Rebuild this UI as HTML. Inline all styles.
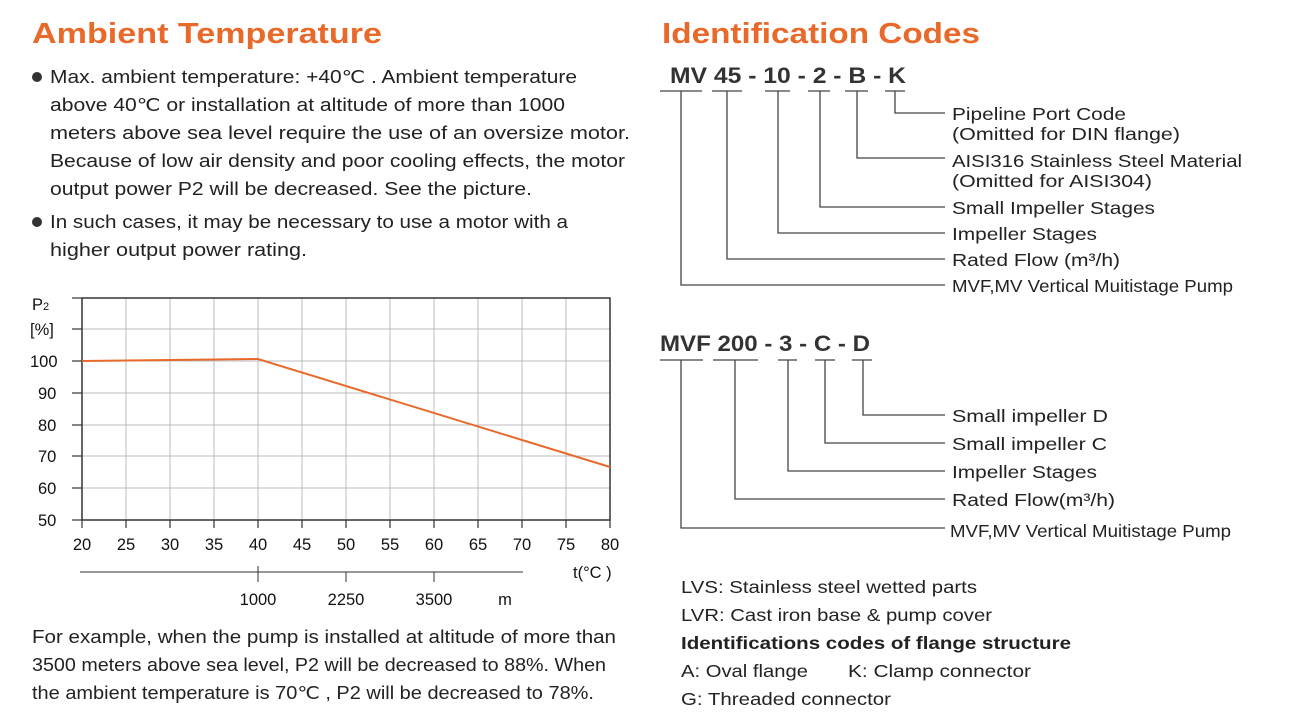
<!DOCTYPE html>
<html><head><meta charset="utf-8"><style>
html,body{margin:0;padding:0;background:#fff;}
svg{display:block;}
text{font-family:"Liberation Sans",sans-serif;fill:#222;}
.b{font-size:18px;}
.o{fill:#e8692a;font-size:29px;font-weight:bold;}
.t{font-size:16.5px;fill:#111;}
.c{font-weight:bold;font-size:22px;fill:#333;}
.l{font-size:17.5px;fill:#222;}
</style></head><body>
<svg width="1301" height="724" viewBox="0 0 1301 724" xmlns="http://www.w3.org/2000/svg">
<!-- Left -->
<text class="o" x="32" y="43" textLength="350" lengthAdjust="spacingAndGlyphs">Ambient Temperature</text>
<circle cx="37" cy="77" r="5" fill="#333"/>
<text class="b" x="50" y="83" textLength="527" lengthAdjust="spacingAndGlyphs">Max. ambient temperature: +40℃ . Ambient temperature</text>
<text class="b" x="50" y="111" textLength="515" lengthAdjust="spacingAndGlyphs">above 40℃ or installation at altitude of more than 1000</text>
<text class="b" x="50" y="139" textLength="580" lengthAdjust="spacingAndGlyphs">meters above sea level require the use of an oversize motor.</text>
<text class="b" x="50" y="167" textLength="575" lengthAdjust="spacingAndGlyphs">Because of low air density and poor cooling effects, the motor</text>
<text class="b" x="50" y="195" textLength="482" lengthAdjust="spacingAndGlyphs">output power P2 will be decreased. See the picture.</text>
<circle cx="37" cy="222" r="5" fill="#333"/>
<text class="b" x="50" y="228" textLength="518" lengthAdjust="spacingAndGlyphs">In such cases, it may be necessary to use a motor with a</text>
<text class="b" x="50" y="256" textLength="257" lengthAdjust="spacingAndGlyphs">higher output power rating.</text>

<!-- chart grid -->
<g stroke="#bbb" stroke-width="1">
<line x1="126" y1="298" x2="126" y2="520"/><line x1="170" y1="298" x2="170" y2="520"/>
<line x1="214" y1="298" x2="214" y2="520"/><line x1="258" y1="298" x2="258" y2="520"/>
<line x1="302" y1="298" x2="302" y2="520"/><line x1="346" y1="298" x2="346" y2="520"/>
<line x1="390" y1="298" x2="390" y2="520"/><line x1="434" y1="298" x2="434" y2="520"/>
<line x1="478" y1="298" x2="478" y2="520"/><line x1="522" y1="298" x2="522" y2="520"/>
<line x1="566" y1="298" x2="566" y2="520"/>
<line x1="82" y1="329" x2="610" y2="329"/><line x1="82" y1="361" x2="610" y2="361"/>
<line x1="82" y1="393" x2="610" y2="393"/><line x1="82" y1="425" x2="610" y2="425"/>
<line x1="82" y1="456" x2="610" y2="456"/><line x1="82" y1="488" x2="610" y2="488"/>
</g>
<rect x="82" y="298" width="528" height="222" fill="none" stroke="#333" stroke-width="1.5"/>
<g stroke="#333" stroke-width="1.2">
<line x1="72" y1="298" x2="82" y2="298"/><line x1="72" y1="329" x2="82" y2="329"/>
<line x1="72" y1="361" x2="82" y2="361"/><line x1="72" y1="393" x2="82" y2="393"/>
<line x1="72" y1="425" x2="82" y2="425"/><line x1="72" y1="456" x2="82" y2="456"/>
<line x1="72" y1="488" x2="82" y2="488"/><line x1="72" y1="520" x2="82" y2="520"/>
<line x1="82" y1="520" x2="82" y2="528"/><line x1="126" y1="520" x2="126" y2="528"/>
<line x1="170" y1="520" x2="170" y2="528"/><line x1="214" y1="520" x2="214" y2="528"/>
<line x1="258" y1="520" x2="258" y2="528"/><line x1="302" y1="520" x2="302" y2="528"/>
<line x1="346" y1="520" x2="346" y2="528"/><line x1="390" y1="520" x2="390" y2="528"/>
<line x1="434" y1="520" x2="434" y2="528"/><line x1="478" y1="520" x2="478" y2="528"/>
<line x1="522" y1="520" x2="522" y2="528"/><line x1="566" y1="520" x2="566" y2="528"/>
<line x1="610" y1="520" x2="610" y2="528"/>
</g>
<polyline points="82,361 258,359 610,467" fill="none" stroke="#e8692a" stroke-width="2"/>
<g class="t">
<text x="32" y="310" class="t">P<tspan font-size="11">2</tspan></text>
<text x="30" y="335" class="t">[%]</text>
<text x="30" y="367" class="t">100</text><text x="38" y="399" class="t">90</text>
<text x="38" y="431" class="t">80</text><text x="38" y="462" class="t">70</text>
<text x="38" y="494" class="t">60</text><text x="38" y="526" class="t">50</text>
</g>
<g text-anchor="middle">
<text class="t" x="82" y="550">20</text><text class="t" x="126" y="550">25</text>
<text class="t" x="170" y="550">30</text><text class="t" x="214" y="550">35</text>
<text class="t" x="258" y="550">40</text><text class="t" x="302" y="550">45</text>
<text class="t" x="346" y="550">50</text><text class="t" x="390" y="550">55</text>
<text class="t" x="434" y="550">60</text><text class="t" x="478" y="550">65</text>
<text class="t" x="522" y="550">70</text><text class="t" x="566" y="550">75</text>
<text class="t" x="610" y="550">80</text>
<text class="t" x="258" y="605">1000</text><text class="t" x="346" y="605">2250</text>
<text class="t" x="434" y="605">3500</text><text class="t" x="505" y="605">m</text>
</g>
<text class="t" x="573" y="578">t(°C )</text>
<g stroke="#333" stroke-width="1">
<line x1="80" y1="572" x2="523" y2="572"/>
<line x1="258" y1="566" x2="258" y2="582"/><line x1="346" y1="572" x2="346" y2="582"/>
<line x1="434" y1="572" x2="434" y2="582"/>
</g>
<text class="b" x="32" y="643" textLength="584" lengthAdjust="spacingAndGlyphs">For example, when the pump is installed at altitude of more than</text>
<text class="b" x="32" y="671" textLength="574" lengthAdjust="spacingAndGlyphs">3500 meters above sea level, P2 will be decreased to 88%. When</text>
<text class="b" x="32" y="699" textLength="562" lengthAdjust="spacingAndGlyphs">the ambient temperature is 70℃ , P2 will be decreased to 78%.</text>

<!-- Right -->
<text class="o" x="662" y="43" textLength="318" lengthAdjust="spacingAndGlyphs">Identification Codes</text>
<text class="c" x="670" y="83" textLength="236" lengthAdjust="spacingAndGlyphs">MV 45 - 10 - 2 - B - K</text>
<g stroke="#444" stroke-width="1.3" fill="none">
<line x1="660" y1="91" x2="702" y2="91"/><line x1="712" y1="91" x2="742" y2="91"/>
<line x1="765" y1="91" x2="790" y2="91"/><line x1="808" y1="91" x2="830" y2="91"/>
<line x1="845" y1="91" x2="868" y2="91"/><line x1="885" y1="91" x2="905" y2="91"/>
<polyline points="895,91 895,113 945,113"/>
<polyline points="857,91 857,158 945,158"/>
<polyline points="820,91 820,207 945,207"/>
<polyline points="778,91 778,233 945,233"/>
<polyline points="727,91 727,259 945,259"/>
<polyline points="681,91 681,285 945,285"/>
</g>
<text class="l" x="952" y="120" textLength="174" lengthAdjust="spacingAndGlyphs">Pipeline Port Code</text>
<text class="l" x="952" y="140" textLength="228" lengthAdjust="spacingAndGlyphs">(Omitted for DIN flange)</text>
<text class="l" x="952" y="167" textLength="290" lengthAdjust="spacingAndGlyphs">AISI316 Stainless Steel Material</text>
<text class="l" x="952" y="187" textLength="200" lengthAdjust="spacingAndGlyphs">(Omitted for AISI304)</text>
<text class="l" x="952" y="214" textLength="203" lengthAdjust="spacingAndGlyphs">Small Impeller Stages</text>
<text class="l" x="952" y="240" textLength="145" lengthAdjust="spacingAndGlyphs">Impeller Stages</text>
<text class="l" x="952" y="266" textLength="168" lengthAdjust="spacingAndGlyphs">Rated Flow (m³/h)</text>
<text class="l" x="952" y="292" textLength="281" lengthAdjust="spacingAndGlyphs">MVF,MV Vertical Muitistage Pump</text>

<text class="c" x="660" y="351" textLength="210" lengthAdjust="spacingAndGlyphs">MVF 200 - 3 - C - D</text>
<g stroke="#444" stroke-width="1.3" fill="none">
<line x1="660" y1="360" x2="703" y2="360"/><line x1="713" y1="360" x2="758" y2="360"/>
<line x1="778" y1="360" x2="797" y2="360"/><line x1="815" y1="360" x2="835" y2="360"/>
<line x1="852" y1="360" x2="872" y2="360"/>
<polyline points="863,360 863,415 945,415"/>
<polyline points="825,360 825,443 945,443"/>
<polyline points="788,360 788,471 945,471"/>
<polyline points="735,360 735,499 945,499"/>
<polyline points="681,360 681,528 945,528"/>
</g>
<text class="l" x="952" y="422" textLength="156" lengthAdjust="spacingAndGlyphs">Small impeller D</text>
<text class="l" x="952" y="450" textLength="155" lengthAdjust="spacingAndGlyphs">Small impeller C</text>
<text class="l" x="952" y="478" textLength="145" lengthAdjust="spacingAndGlyphs">Impeller Stages</text>
<text class="l" x="952" y="506" textLength="163" lengthAdjust="spacingAndGlyphs">Rated Flow(m³/h)</text>
<text class="l" x="950" y="537" textLength="281" lengthAdjust="spacingAndGlyphs">MVF,MV Vertical Muitistage Pump</text>

<text class="l" x="681" y="593" textLength="296" lengthAdjust="spacingAndGlyphs">LVS: Stainless steel wetted parts</text>
<text class="l" x="681" y="621" textLength="311" lengthAdjust="spacingAndGlyphs">LVR: Cast iron base &amp; pump cover</text>
<text class="l" x="681" y="649" font-weight="bold" textLength="390" lengthAdjust="spacingAndGlyphs">Identifications codes of flange structure</text>
<text class="l" x="681" y="677" textLength="127" lengthAdjust="spacingAndGlyphs">A: Oval flange</text>
<text class="l" x="848" y="677" textLength="183" lengthAdjust="spacingAndGlyphs">K: Clamp connector</text>
<text class="l" x="681" y="705" textLength="210" lengthAdjust="spacingAndGlyphs">G: Threaded connector</text>
</svg>
</body></html>
